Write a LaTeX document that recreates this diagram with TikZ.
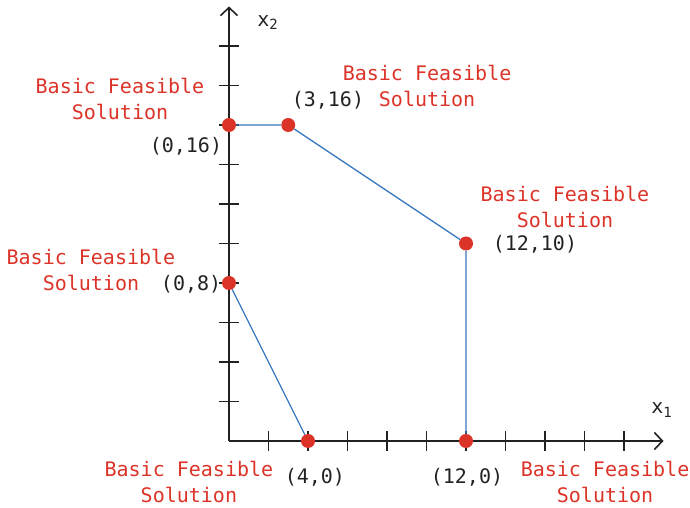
\documentclass[tikz,border=0pt]{standalone}
\usepackage{fontspec}
\setmonofont{DejaVu Sans Mono}
\usetikzlibrary{arrows.meta}
\definecolor{bfsred}{HTML}{DC3328}
\definecolor{edgeblue}{HTML}{3A78C0}
\definecolor{axisgray}{HTML}{222222}
\begin{document}
\begin{tikzpicture}[x=19.75pt,y=19.75pt,
  font=\fontsize{20}{26}\selectfont\ttfamily,
  vertex/.style={circle,fill=bfsred,inner sep=0pt,minimum size=14pt},
  bfs/.style={text=bfsred,align=center},
  coordlbl/.style={text=axisgray},
  edge/.style={edgeblue,line width=1.3pt},
  axis/.style={axisgray,line width=1.6pt}]
\useasboundingbox (-229pt,-67pt) rectangle (461pt,441pt);
% axes
\coordinate (O) at (0,0);
\coordinate (xend) at (22,0);
\coordinate (yend) at (0,22);
\draw[axis,-{Straight Barb[length=8pt,width=17pt]}] (O) -- (xend);
\draw[axis,-{Straight Barb[length=8pt,width=17pt]}] (O) -- (yend);
\foreach \i in {2,4,...,20} {
  \draw[axis] (\i,-10pt) -- (\i,10pt);
  \draw[axis] (-10pt,\i) -- (10pt,\i);
}
\node[coordlbl] (xlbl) at (21.92,1.57) {x\textsubscript{1}};
\node[coordlbl] (ylbl) at (1.97,21.2) {x\textsubscript{2}};
% corner points
\node[vertex] (a) at (0,8) {};
\node[vertex] (b) at (4,0) {};
\node[vertex] (c) at (12,0) {};
\node[vertex] (d) at (12,10) {};
\node[vertex] (e) at (3,16) {};
\node[vertex] (f) at (0,16) {};
\draw[edge] (f) -- (e) -- (d) -- (c);
\draw[edge] (a) -- (b);
% labels
\node[coordlbl] at (-2.18,14.94) {(0,16)};
\node[coordlbl] at (5.01,17.27) {(3,16)};
\node[coordlbl] at (15.49,9.97) {(12,10)};
\node[coordlbl] at (-1.92,7.95) {(0,8)};
\node[coordlbl] at (4.35,-1.82) {(4,0)};
\node[coordlbl] at (12.05,-1.82) {(12,0)};
\node[bfs] at (-5.52,17.32) {Basic Feasible\\Solution};
\node[bfs] at (10.03,17.97) {Basic Feasible\\Solution};
\node[bfs] at (17.01,11.85) {Basic Feasible\\Solution};
\node[bfs] at (-6.99,8.66) {Basic Feasible\\Solution};
\node[bfs] at (-2.03,-2.08) {Basic Feasible\\Solution};
\node[bfs] at (19.04,-2.08) {Basic Feasible\\Solution};
\end{tikzpicture}
\end{document}
